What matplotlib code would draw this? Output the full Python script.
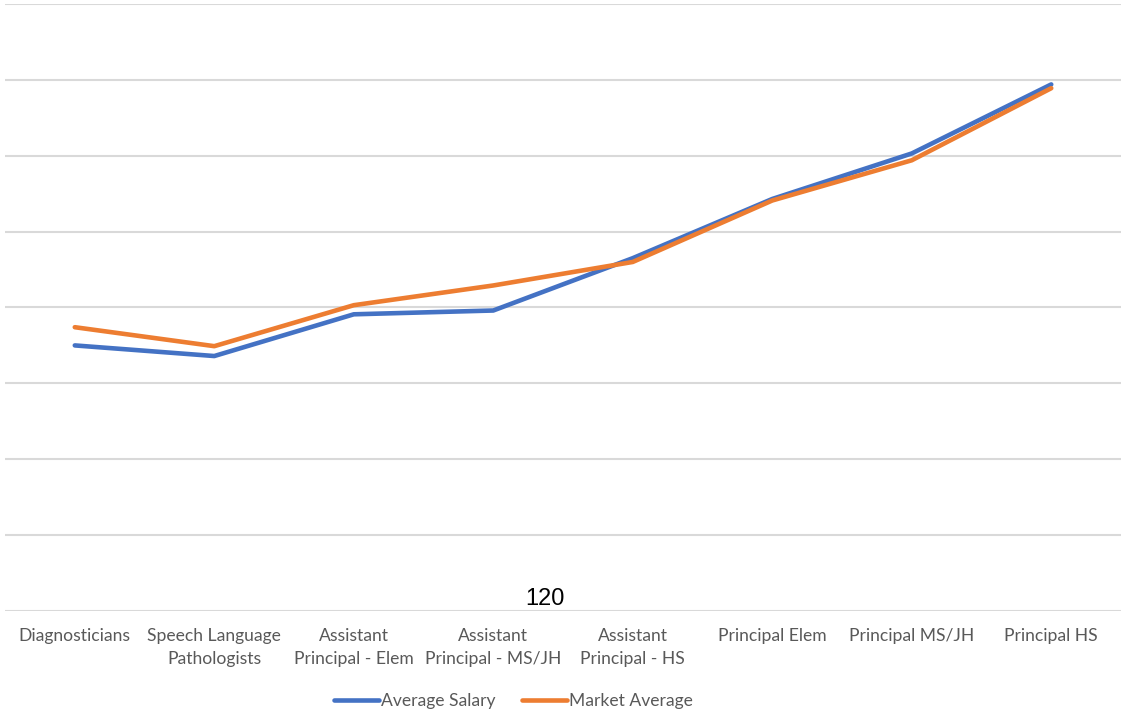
import matplotlib
matplotlib.use("Agg")
import matplotlib.pyplot as plt
import numpy as np

categories = [
    "Diagnosticians",
    "Speech Language\nPathologists",
    "Assistant\nPrincipal - Elem",
    "Assistant\nPrincipal - MS/JH",
    "Assistant\nPrincipal - HS",
    "Principal Elem",
    "Principal MS/JH",
    "Principal HS",
]
average_salary = [75000, 73600, 79100, 79600, 86500, 94300, 100300, 109400]
market_average = [77400, 74900, 80300, 82900, 86000, 94100, 99400, 108900]

BLUE = "#4472C4"
ORANGE = "#ED7D31"
GRID = "#D9D9D9"
LABEL = "#595959"

fig = plt.figure(figsize=(11.21, 7.12), dpi=100)
ax = fig.add_axes([0.0045, 0.1419, 0.9955, 0.8525])

x = np.arange(len(categories))
ax.plot(x, average_salary, color=BLUE, lw=3.3, solid_capstyle="round",
        solid_joinstyle="round", label="Average Salary", zorder=3)
ax.plot(x, market_average, color=ORANGE, lw=3.3, solid_capstyle="round",
        solid_joinstyle="round", label="Market Average", zorder=3)

ax.set_xlim(-0.5, len(categories) - 0.5)
ax.set_ylim(40000, 120000)
ax.set_yticks(np.arange(40000, 120001, 10000))
ax.yaxis.grid(True, color=GRID, lw=1.5)
ax.set_axisbelow(True)
ax.tick_params(axis="y", left=False, labelleft=False)
ax.tick_params(axis="x", length=0, pad=12)
for s in ax.spines.values():
    s.set_visible(False)

ax.set_xticks(x)
ax.set_xticklabels(categories, fontsize=12.6, color=LABEL, family="Lato",
                   linespacing=1.6)
for t in ax.get_xticklabels():
    t.set_horizontalalignment("center")
    t.set_multialignment("center")

fig.text(0.486, 0.159, "120", fontsize=17, family="Liberation Sans",
         ha="center", va="center", color="black")

leg = fig.legend(loc="lower center", bbox_to_anchor=(0.458, -0.018), ncol=2,
                 frameon=False, handlelength=2.6,
                 handletextpad=0.1, columnspacing=1.5,
                 prop={"family": "Lato", "size": 12.6})
for t in leg.get_texts():
    t.set_color(LABEL)

fig.savefig("out.png", dpi=100)
